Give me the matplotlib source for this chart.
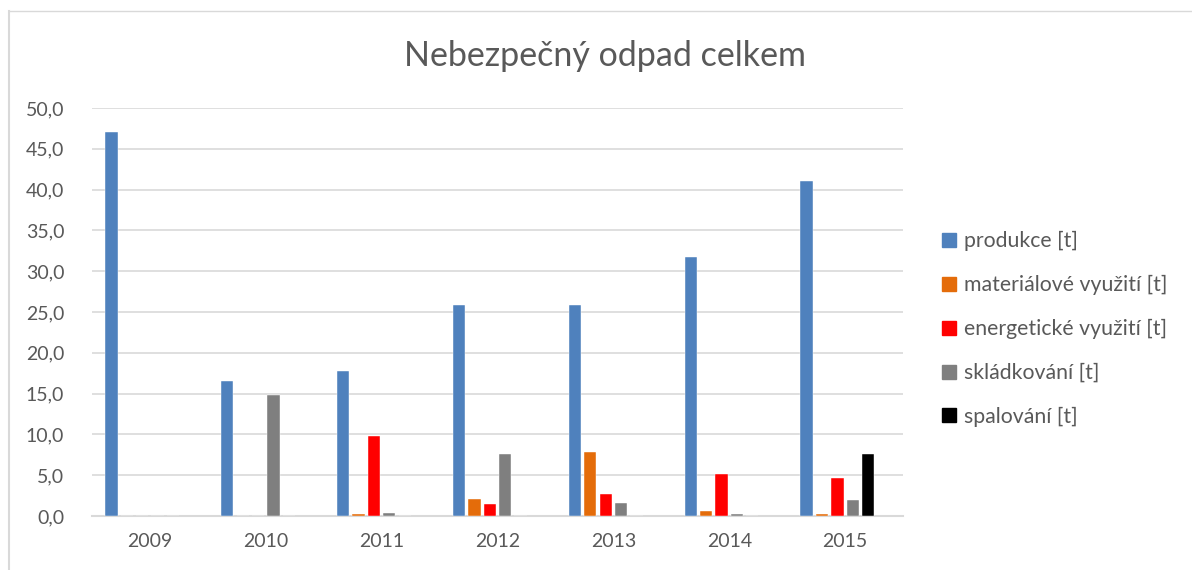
import numpy as np
import matplotlib.pyplot as plt
from matplotlib.lines import Line2D

years = ['2009', '2010', '2011', '2012', '2013', '2014', '2015']
series = ['produkce [t]', 'materiálové využití [t]', 'energetické využití [t]',
          'skládkování [t]', 'spalování [t]']
produkce = [47.0, 16.5, 17.8, 25.9, 25.9, 31.8, 41.0]
material = [0.0, 0.0, 0.2, 2.1, 7.9, 0.6, 0.2]
energie = [0.0, 0.0, 9.8, 1.5, 2.7, 5.1, 4.6]
skladka = [0.0, 14.8, 0.4, 7.6, 1.6, 0.3, 2.0]
spalovani = [0.0, 0.0, 0.0, 0.0, 0.0, 0.0, 7.6]
colors = ['#4F81BD', '#E46C0A', '#FF0000', '#7F7F7F', '#000000']

plt.rcParams['font.family'] = ['Lato', 'DejaVu Sans']
txt = '#595959'

fig = plt.figure(figsize=(11.92, 5.7), dpi=100)
ax = fig.add_axes([92 / 1192, 1 - 516 / 570, (903 - 92) / 1192, (516 - 108) / 570])

x = np.arange(len(years))
pitch = 0.1328
width = 0.106
values = [produkce, material, energie, skladka, spalovani]
# 6 slots in excel, the last one is empty
for i, (vals, c) in enumerate(zip(values, colors)):
    ax.bar(x + (i - 2.5) * pitch, vals, width, color=c, edgecolor='white',
           linewidth=0.3, zorder=3)

ax.set_xlim(-0.5, len(years) - 0.5)
ax.set_ylim(0, 50)
ax.set_yticks(np.arange(0, 51, 5))
ax.set_yticklabels([('%.1f' % v).replace('.', ',') for v in np.arange(0, 51, 5)])
ax.set_xticks(x)
ax.set_xticklabels(years)
ax.tick_params(length=0, labelsize=14, colors=txt)
ax.tick_params(axis='y', pad=20)
ax.tick_params(axis='x', pad=12)
ax.grid(axis='y', color='#D9D9D9', linewidth=1.2, zorder=0)
for s in ['top', 'right', 'left']:
    ax.spines[s].set_visible(False)
ax.spines['bottom'].set_color('#D9D9D9')
ax.spines['bottom'].set_linewidth(1.5)

fig.text(605 / 1192, 1 - 56 / 570, 'Nebezpečný odpad celkem', ha='center', va='center',
         fontsize=24.5, color=txt)

handles = [Line2D([], [], marker='s', linestyle='none', markersize=10, color=c) for c in colors]
fig.legend(handles, series, loc='center left', bbox_to_anchor=(916 / 1192, 1 - 329 / 570),
           frameon=False, fontsize=15.3, labelcolor=txt, handletextpad=0.05,
           labelspacing=1.12, handlelength=1.3)

# chart border
fig.add_artist(Line2D([9 / 1192, 9 / 1192], [0, 1 - 11 / 570], color='#D9D9D9', linewidth=1.5))
fig.add_artist(Line2D([9 / 1192, 1191 / 1192], [1 - 11 / 570, 1 - 11 / 570], color='#D9D9D9', linewidth=1))

plt.savefig('out.png', dpi=100)
